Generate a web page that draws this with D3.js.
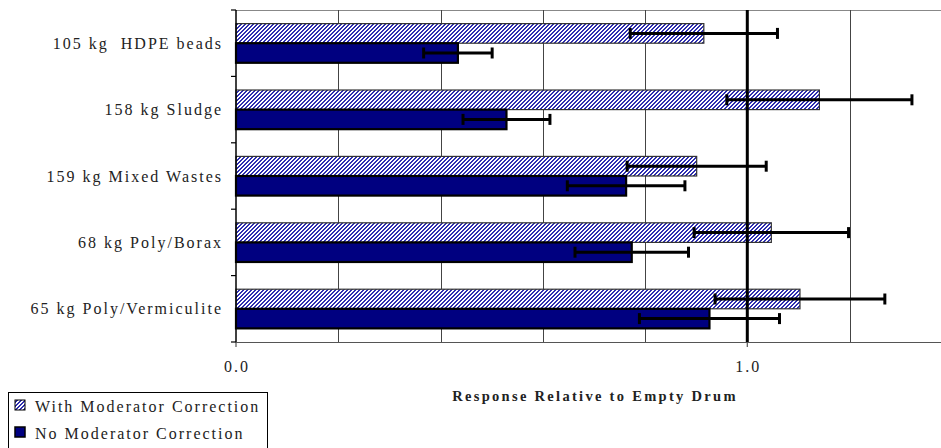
<!DOCTYPE html>
<html>
<head>
<meta charset="utf-8">
<script src="https://cdn.jsdelivr.net/npm/d3@7"></script>
<style>
  body { margin: 0; background: #fff; }
</style>
</head>
<body>
<svg id="chart" width="941" height="448"></svg>
<script>
// Categories, top to bottom
const categories = [
  "105 kg  HDPE beads",
  "158 kg Sludge",
  "159 kg Mixed Wastes",
  "68 kg Poly/Borax",
  "65 kg Poly/Vermiculite"
];
const seriesNames = ["With Moderator Correction", "No Moderator Correction"];

// Response relative to empty drum
const withValues = [0.915, 1.141, 0.901, 1.047, 1.103];
const withErrors = [0.144, 0.181, 0.136, 0.151, 0.166];
const noValues = [0.434, 0.529, 0.763, 0.774, 0.926];
const noErrors = [0.067, 0.085, 0.115, 0.111, 0.137];

const gridValues = [0.2, 0.4, 0.6, 0.8, 1.2, 1.4];
const tickValues = [0.0, 1.0];

const FONT = "'Liberation Serif'";
const MARGIN_LEFT = 236;
const PLOT_TOP = 10;
const PLOT_BOTTOM = 342;
const PX_PER_UNIT = 511.3;
const NAVY = "#000080";

const svg = d3.select("#chart");

// dithered diagonal hatch for the corrected series
const defs = svg.append("defs");
const hatch = defs
  .append("pattern")
  .attr("id", "hatch")
  .attr("patternUnits", "userSpaceOnUse")
  .attr("width", 4)
  .attr("height", 4);
hatch.append("rect").attr("width", 4).attr("height", 4).attr("fill", "#ffffff");
const hatchPixels = [];
for (let py = 0; py < 4; py++)
  for (let px = 0; px < 4; px++)
    if ((px + py) % 4 < 2) hatchPixels.push([px, py]);
hatch
  .selectAll("rect.px")
  .data(hatchPixels)
  .join("rect")
  .attr("class", "px")
  .attr("x", (d) => d[0])
  .attr("y", (d) => d[1])
  .attr("width", 1)
  .attr("height", 1)
  .attr("fill", "#2e2eb0");

const x = d3
  .scaleLinear()
  .domain([0, 1.4])
  .range([MARGIN_LEFT, MARGIN_LEFT + 1.4 * PX_PER_UNIT]);

const y = d3
  .scaleBand()
  .domain(categories)
  .range([PLOT_TOP, PLOT_BOTTOM])
  .paddingInner(0.41)
  .paddingOuter(0.205);

const ySub = d3.scaleBand().domain(seriesNames).range([0, y.bandwidth()]);

const rows = categories.map((c, i) => [
  { cat: c, series: seriesNames[0], value: withValues[i], err: withErrors[i] },
  { cat: c, series: seriesNames[1], value: noValues[i], err: noErrors[i] }
]).flat();

// top border
svg.append("line")
  .attr("x1", MARGIN_LEFT).attr("x2", 941)
  .attr("y1", PLOT_TOP + 0.5).attr("y2", PLOT_TOP + 0.5)
  .attr("stroke", "#888").attr("stroke-width", 1);

// gridlines
svg.append("g")
  .selectAll("line")
  .data(gridValues)
  .join("line")
  .attr("x1", (d) => Math.round(x(d)) + 0.5)
  .attr("x2", (d) => Math.round(x(d)) + 0.5)
  .attr("y1", PLOT_TOP)
  .attr("y2", PLOT_BOTTOM)
  .attr("stroke", "#444")
  .attr("stroke-width", 1);

// bars
svg.append("g")
  .selectAll("rect")
  .data(rows)
  .join("rect")
  .attr("x", x(0))
  .attr("y", (d) => y(d.cat) + ySub(d.series))
  .attr("width", (d) => x(d.value) - x(0))
  .attr("height", ySub.bandwidth())
  .attr("fill", (d) => (d.series === seriesNames[0] ? "url(#hatch)" : NAVY))
  .attr("stroke", (d) => (d.series === seriesNames[0] ? "#333" : "#000"))
  .attr("stroke-width", (d) => (d.series === seriesNames[0] ? 1.2 : 2.2));

// reference line at 1.0
svg.append("line")
  .attr("x1", x(1)).attr("x2", x(1))
  .attr("y1", PLOT_TOP).attr("y2", PLOT_BOTTOM)
  .attr("stroke", "#000").attr("stroke-width", 3);

// error bars
const errs = svg.append("g").attr("stroke", "#000").attr("stroke-width", 3);
rows.forEach((d) => {
  const cy = y(d.cat) + ySub(d.series) + ySub.bandwidth() / 2;
  const x0 = x(d.value - d.err);
  const x1 = x(d.value + d.err);
  errs.append("line").attr("x1", x0).attr("x2", x1).attr("y1", cy).attr("y2", cy);
  errs.append("line").attr("x1", x0).attr("x2", x0).attr("y1", cy - 5.5).attr("y2", cy + 5.5);
  errs.append("line").attr("x1", x1).attr("x2", x1).attr("y1", cy - 5.5).attr("y2", cy + 5.5);
});

// bottom axis
svg.append("line")
  .attr("x1", MARGIN_LEFT).attr("x2", 941)
  .attr("y1", PLOT_BOTTOM + 0.5).attr("y2", PLOT_BOTTOM + 0.5)
  .attr("stroke", "#555").attr("stroke-width", 1.2);

const xAxis = svg.append("g");
xAxis.selectAll("line")
  .data(tickValues)
  .join("line")
  .attr("x1", (d) => x(d)).attr("x2", (d) => x(d))
  .attr("y1", PLOT_BOTTOM).attr("y2", PLOT_BOTTOM + 5)
  .attr("stroke", "#555").attr("stroke-width", 1.2);
xAxis.selectAll("text")
  .data(tickValues)
  .join("text")
  .attr("x", (d) => x(d) + 1)
  .attr("y", 372)
  .attr("text-anchor", "middle")
  .attr("font-size", 16)
  .attr("letter-spacing", "2px")
  .attr("fill", "#222")
  .style("font-family", FONT)
  .text(d3.format(".1f"));

// left axis
svg.append("line")
  .attr("x1", MARGIN_LEFT).attr("x2", MARGIN_LEFT)
  .attr("y1", PLOT_TOP).attr("y2", PLOT_BOTTOM)
  .attr("stroke", "#000").attr("stroke-width", 1.5);

const boundaries = categories.map((c) => y(c) - y.step() * y.paddingInner() / 2);
boundaries.push(PLOT_BOTTOM);
svg.append("g")
  .selectAll("line")
  .data(boundaries)
  .join("line")
  .attr("x1", MARGIN_LEFT - 5).attr("x2", MARGIN_LEFT)
  .attr("y1", (d) => d).attr("y2", (d) => d)
  .attr("stroke", "#000").attr("stroke-width", 1.2);

svg.append("g")
  .selectAll("text")
  .data(categories)
  .join("text")
  .attr("x", 223)
  .attr("y", (d) => y(d) + y.bandwidth() / 2)
  .attr("dy", "0.35em")
  .attr("text-anchor", "end")
  .attr("font-size", 16)
  .attr("letter-spacing", "2px")
  .attr("fill", "#222")
  .style("font-family", FONT)
  .style("white-space", "pre")
  .text((d) => d);

// axis title
svg.append("text")
  .attr("x", 595)
  .attr("y", 401)
  .attr("text-anchor", "middle")
  .attr("font-size", 14.5)
  .attr("font-weight", "bold")
  .attr("letter-spacing", "2.3px")
  .attr("fill", "#222")
  .style("font-family", FONT)
  .text("Response Relative to Empty Drum");

// legend
const legend = svg.append("g");
legend.append("rect")
  .attr("x", 8.5).attr("y", 392.5)
  .attr("width", 259).attr("height", 70)
  .attr("fill", "#fff").attr("stroke", "#000").attr("stroke-width", 1);

const legendY = [400, 427];
seriesNames.forEach((name, i) => {
  legend.append("rect")
    .attr("x", 15).attr("y", legendY[i])
    .attr("width", 10).attr("height", 10)
    .attr("fill", i === 0 ? "url(#hatch)" : NAVY)
    .attr("stroke", "#000").attr("stroke-width", i === 0 ? 1 : 1.5);
  legend.append("text")
    .attr("x", 35).attr("y", legendY[i] + 11.5)
    .attr("font-size", 16)
    .attr("letter-spacing", "2px")
    .attr("fill", "#222")
    .style("font-family", FONT)
    .text(name);
});
</script>
</body>
</html>
